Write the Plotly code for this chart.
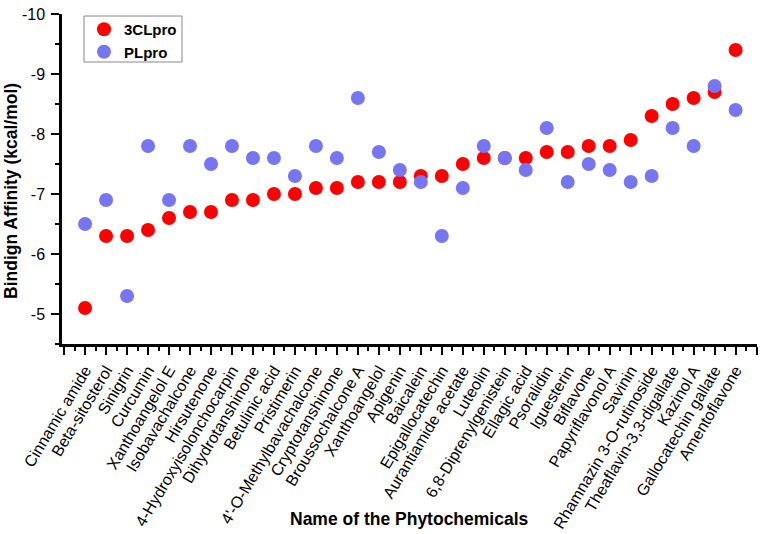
import plotly.graph_objects as go

names = ["Cinnamic amide", "Beta-sitosterol", "Sinigrin", "Curcumin", "Xanthoangelol E",
         "Isobavachalcone", "Hirsutenone", "4-Hydroxyisolonchocarpin", "Dihydrotanshinone",
         "Betulinic acid", "Pristimerin", "4'-O-Methylbavachalcone", "Cryptotanshinone",
         "Broussochalcone A", "Xanthoangelol", "Apigenin", "Baicalein", "Epigallocatechin",
         "Aurantiamide acetate", "Luteolin", "6,8-Diprenylgenistein", "Ellagic acid",
         "Psoralidin", "Iguesterin", "Biflavone", "Papyriflavonol A", "Savinin",
         "Rhamnazin 3-O-rutinoside", "Theaflavin-3,3-digallate", "Kazinol A",
         "Gallocatechin gallate", "Amentoflavone"]

cl3pro = [-5.1, -6.3, -6.3, -6.4, -6.6, -6.7, -6.7, -6.9, -6.9, -7.0, -7.0, -7.1, -7.1,
          -7.2, -7.2, -7.2, -7.3, -7.3, -7.5, -7.6, -7.6, -7.6, -7.7, -7.7, -7.8, -7.8,
          -7.9, -8.3, -8.5, -8.6, -8.7, -9.4]
plpro = [-6.5, -6.9, -5.3, -7.8, -6.9, -7.8, -7.5, -7.8, -7.6, -7.6, -7.3, -7.8, -7.6,
         -8.6, -7.7, -7.4, -7.2, -6.3, -7.1, -7.8, -7.6, -7.4, -8.1, -7.2, -7.5, -7.4,
         -7.2, -7.3, -8.1, -7.8, -8.8, -8.4]

yticks = [-10, -9, -8, -7, -6, -5]

idx = list(range(len(names)))
FONT = "Liberation Sans, Arial, sans-serif"

fig = go.Figure()
fig.add_trace(go.Scatter(x=idx, y=cl3pro, mode="markers", name="3CLpro",
                         marker=dict(size=14, color="#FF0000", line=dict(width=0))))
fig.add_trace(go.Scatter(x=idx, y=plpro, mode="markers", name="PLpro",
                         marker=dict(size=14, color="#7676F5", line=dict(width=0))))

L, R, T, B = 62, 5, 14, 190
W, H = 762, 534
pw, ph = W - L - R, H - T - B


def px_x(v):
    return (v - L) / pw


def px_y(v):
    return (ph + T - v) / ph


fig.update_layout(
    width=W, height=H,
    margin=dict(l=L, r=R, t=T, b=B, autoexpand=False),
    paper_bgcolor="white", plot_bgcolor="white",
    font=dict(family=FONT, color="black", size=15),
    showlegend=True,
    legend=dict(x=px_x(84), y=px_y(13), xanchor="left", yanchor="top",
                borderwidth=0, bgcolor="rgba(0,0,0,0)",
                font=dict(size=15, weight="bold", family=FONT),
                itemsizing="trace", itemwidth=30, tracegroupgap=0),
    shapes=[dict(type="rect", xref="paper", yref="paper",
                 x0=px_x(84), x1=px_x(182), y0=px_y(62), y1=px_y(16),
                 line=dict(color="#888888", width=1), fillcolor="white", layer="below")],
    xaxis=dict(
        automargin=False,
        range=[-1.1, 32.02], showgrid=False, zeroline=False,
        showline=True, linecolor="black", linewidth=2.5, mirror=False,
        tickmode="array", tickvals=[-1] + idx + [32], ticktext=[""] + names + [""],
        ticks="outside", ticklen=8, tickwidth=2, tickcolor="black",
        tickangle=-59, tickfont=dict(size=16, family=FONT),
        minor=dict(tickmode="array", tickvals=[i - 0.5 for i in range(0, 33)],
                   ticks="outside", ticklen=4, tickwidth=2, tickcolor="black"),
    ),
    yaxis=dict(
        automargin=False,
        range=[-4.5, -10], showgrid=False, zeroline=False,
        showline=True, linecolor="black", linewidth=2.5, mirror=False,
        tickmode="array", tickvals=yticks, ticktext=[str(v) for v in yticks],
        ticks="outside", ticklen=8, tickwidth=2, tickcolor="black",
        tickfont=dict(size=16, family=FONT), ticklabelstandoff=3,
        minor=dict(tickmode="array", tickvals=[-9.5, -8.5, -7.5, -6.5, -5.5, -4.5],
                   ticks="outside", ticklen=4, tickwidth=2, tickcolor="black"),
    ),
    annotations=[
        dict(text="Bindign Affinity (kcal/mol)", xref="paper", yref="paper",
             x=px_x(11), y=px_y(191), xanchor="center", yanchor="middle",
             textangle=-90, showarrow=False,
             font=dict(size=17.5, weight="bold", family=FONT)),
        dict(text="Name of the Phytochemicals", xref="paper", yref="paper",
             x=0.5, y=px_y(519), xanchor="center", yanchor="middle",
             showarrow=False, font=dict(size=17.5, weight="bold", family=FONT)),
    ],
)

fig.write_html("out.html", config={"displayModeBar": False},
               post_script="document.body.style.margin='0px';document.body.style.overflow='hidden';")
